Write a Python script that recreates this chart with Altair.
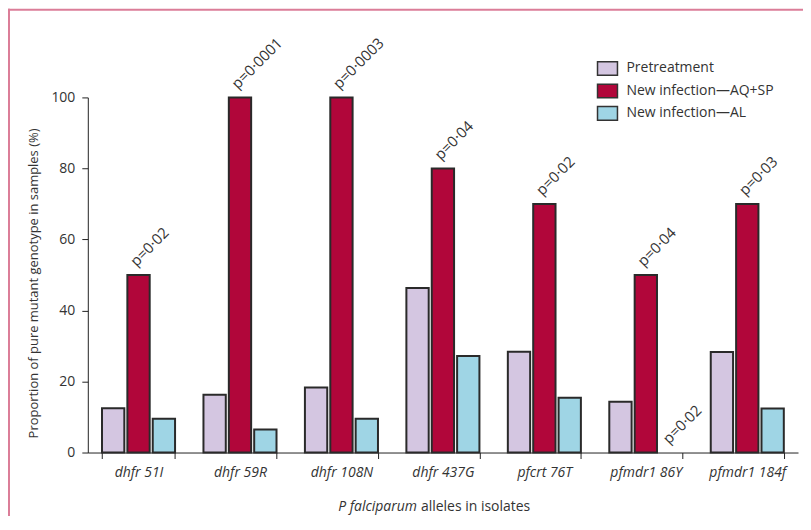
import altair as alt
import pandas as pd

categories = ["dhfr 51I", "dhfr 59R", "dhfr 108N", "dhfr 437G", "pfcrt 76T", "pfmdr1 86Y", "pfmdr1 184f"]
series = ["Pretreatment", "New infection\u2014AQ+SP", "New infection\u2014AL"]
pretreatment = [12.5, 16.3, 18.3, 46.3, 28.4, 14.3, 28.3]
aq_sp = [50, 100, 100, 80, 70, 50, 70]
al = [9.5, 6.5, 9.5, 27.2, 15.4, 0, 12.4]
p_labels = ["p=0\u00b702", "p=0\u00b70001", "p=0\u00b70003", "p=0\u00b704", "p=0\u00b702", "p=0\u00b704", "p=0\u00b703"]
extra_label = {"cat": "pfmdr1 86Y", "series": series[2], "value": 0, "label": "p=0\u00b702"}
colors = ["#d4c6e1", "#b1063a", "#9fd5e5"]

rows = []
for i, c in enumerate(categories):
    for s, vals in zip(series, [pretreatment, aq_sp, al]):
        rows.append({"cat": c, "series": s, "value": vals[i]})
df = pd.DataFrame(rows)

ann = [{"cat": c, "series": series[1], "value": aq_sp[i], "label": p_labels[i]} for i, c in enumerate(categories)]
ann.append(extra_label)
ann_df = pd.DataFrame(ann)

FONT = "Open Sans"
TXT = "#333333"

x_enc = alt.X("cat:N", sort=categories, title=None,
              scale=alt.Scale(domain=categories, paddingInner=0.28, paddingOuter=0.14),
              axis=alt.Axis(labelAngle=0, labelFontStyle="italic", labelFontSize=14, labelColor=TXT,
                            labelFont=FONT, labelPadding=7, tickBand="extent", tickSize=6,
                            domainColor="#222", tickColor="#222", labelLimit=200))
xo_enc = alt.XOffset("series:N", sort=series, scale=alt.Scale(domain=series, paddingInner=0.12))

bars = alt.Chart(df).transform_filter(alt.datum.value > 0).mark_bar(stroke="#2a2a2a", strokeWidth=2).encode(
    x=x_enc,
    xOffset=xo_enc,
    y=alt.Y("value:Q", scale=alt.Scale(domain=[0, 100], nice=False),
            axis=alt.Axis(values=[0, 20, 40, 60, 80, 100], grid=False, labelFontSize=14, labelColor=TXT,
                          labelFont=FONT, tickSize=6, domainColor="#222", tickColor="#222",
                          title="Proportion of pure mutant genotype in samples (%)",
                          titleFont=FONT, titleFontSize=13, titleFontWeight="normal", titleColor=TXT,
                          titlePadding=10, labelPadding=7, titleY=186)),
    color=alt.Color("series:N", sort=series, scale=alt.Scale(domain=series, range=colors),
                    legend=alt.Legend(title=None, orient="none", legendX=510, legendY=-40,
                                      labelFont=FONT, labelFontSize=14, labelColor=TXT,
                                      symbolType="M-1,-0.68H1V0.68H-1Z", symbolSize=400,
                                      symbolStrokeWidth=1.5, symbolStrokeColor="#333",
                                      rowPadding=1.5, labelOffset=8)),
)

texts = alt.Chart(ann_df).mark_text(angle=315, align="left", baseline="bottom", dx=4, dy=-4,
                                     font=FONT, fontSize=15, color=TXT).encode(
    x=alt.X("cat:N", sort=categories),
    xOffset=alt.XOffset("series:N", sort=series),
    y=alt.Y("value:Q"),
    text="label:N",
)

one = pd.DataFrame({"k": [0]})
title_it = alt.Chart(one).mark_text(align="right", baseline="alphabetic", font=FONT, fontSize=14,
                                     fontStyle="italic", color=TXT).encode(
    x=alt.value(330), y=alt.value(415), text=alt.value("P falciparum"))
title_rest = alt.Chart(one).mark_text(align="left", baseline="alphabetic", font=FONT, fontSize=14,
                                       color=TXT).encode(
    x=alt.value(334), y=alt.value(415), text=alt.value("alleles in isolates"))

frame_v = alt.Chart(one).mark_rule(color="#db7d98", strokeWidth=2).encode(
    x=alt.value(-79), y=alt.value(-89), y2=alt.value(430))
frame_h = alt.Chart(one).mark_rule(color="#db7d98", strokeWidth=2).encode(
    y=alt.value(-88), x=alt.value(-80), x2=alt.value(720))

chart = alt.layer(frame_v, frame_h, bars, texts, title_it, title_rest).properties(
    width=712, height=356, autosize=alt.AutoSizeParams(type="none"),
    padding={"left": 80, "top": 89, "right": 5, "bottom": 63},
).configure_view(stroke=None)

chart.save("out.html", embed_options={"renderer": "svg", "actions": False})
